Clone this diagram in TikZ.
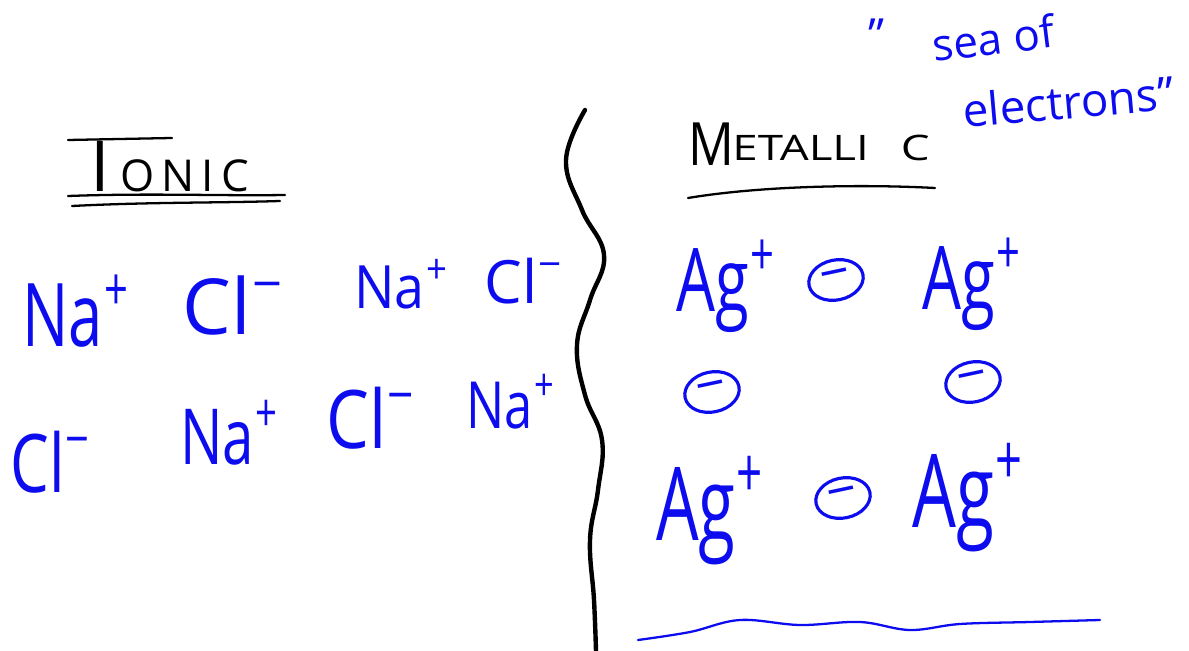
\documentclass[tikz,border=0pt]{standalone}
\usepackage{fontspec}
\usepackage{graphicx}
\setmainfont{Open Sans}
\usetikzlibrary{shapes.geometric}
\definecolor{InkBlue}{RGB}{12,12,238}
\newcommand{\pts}[1]{\fontsize{#1}{#1}\selectfont}
\newcommand{\narrow}[2][0.72]{\scalebox{#1}[1]{#2}}
\newcommand{\chg}[1]{\kern1pt\raisebox{0.42em}{\scalebox{0.68}{#1}}}

\begin{document}
\begin{tikzpicture}[x=0.02cm, y=-0.02cm, inner sep=0pt,
	ion/.style={text=InkBlue, anchor=base west},
	elec/.style={ellipse, draw=InkBlue, line width=1.8pt, text=InkBlue,
		minimum width=1.1cm, minimum height=0.8cm, rotate=12, font=\pts{30}},
	pluma/.style={line width=1.3pt, line cap=round},
	tinta/.style={pluma, InkBlue}]
	\useasboundingbox (0,0) rectangle (1189,651);
	% titles
	\node[anchor=base west, font=\pts{40}] (tI) at (90,192) {I};
	\node[anchor=base west, font=\pts{25}] (tonic) at (120,192) {O\kern4pt N\kern4pt I\kern4pt C};
	\draw[pluma] (68,140) -- (172,138);
	\draw[pluma] (68,196) .. controls (150,193) and (220,196) .. (285,195);
	\draw[pluma] (72,206) .. controls (150,202) and (220,203) .. (280,201);
	\node[anchor=base west, font=\pts{34}] (tM) at (688,166) {\narrow[0.85]{M}};
	\node[anchor=base west, font=\pts{20}] (tetal) at (732,161) {\narrow[1.3]{ETALLI\kern14pt C}};
	\draw[pluma] (688,198) .. controls (760,186) and (860,184) .. (935,188);
	% sea of electrons
	\node[text=InkBlue, anchor=base west, font=\pts{26}] (q) at (868,52) {''};
	\node[text=InkBlue, anchor=base west, font=\pts{25}, rotate=7] (sea) at (934,62) {sea of};
	\node[text=InkBlue, anchor=base west, font=\pts{26}, rotate=5] (electrons) at (964,128) {electrons''};
	% divider
	\draw[line width=2.5pt, line cap=round] plot[smooth, tension=0.7] coordinates {
		(585,110) (566,160) (582,210) (604,255) (590,300) (577,345) (585,395)
		(602,440) (598,490) (590,540) (594,600) (596,651)};
	% ionic
	\node[ion, font=\pts{50}] (na1) at (22,347) {\narrow[0.7]{Na\chg{+}}};
	\node[ion, font=\pts{44}] (cl1) at (182,335) {Cl\chg{−}};
	\node[ion, font=\pts{34}] (na2) at (354,309) {\narrow[0.9]{Na\chg{+}}};
	\node[ion, font=\pts{34}] (cl2) at (484,304) {Cl\chg{−}};
	\node[ion, font=\pts{46}] (cl3) at (10,492) {\narrow[0.76]{Cl\chg{−}}};
	\node[ion, font=\pts{44}] (na3) at (180,464) {\narrow[0.73]{Na\chg{+}}};
	\node[ion, font=\pts{46}] (cl4) at (326,448) {\narrow[0.84]{Cl\chg{−}}};
	\node[ion, font=\pts{37}] (na4) at (466,428) {\narrow[0.78]{Na\chg{+}}};
	% metallic
	\node[ion, font=\pts{50}] (ag1) at (676,312) {\narrow[0.7]{Ag\chg{+}}};
	\node[elec] (e1) at (836,280) {−};
	\node[ion, font=\pts{50}] (ag2) at (922,310) {\narrow[0.7]{Ag\chg{+}}};
	\node[elec] (e2) at (712,392) {−};
	\node[elec] (e3) at (973,382) {−};
	\node[ion, font=\pts{58}] (ag3) at (656,540) {\narrow[0.66]{Ag\chg{+}}};
	\node[elec] (e4) at (843,498) {−};
	\node[ion, font=\pts{58}] (ag4) at (912,527) {\narrow[0.68]{Ag\chg{+}}};
	\draw[tinta] plot[smooth, tension=0.6] coordinates {
		(638,640) (690,632) (740,620) (800,625) (860,622) (910,630) (960,624)
		(1030,622) (1100,620)};
\end{tikzpicture}
\end{document}
